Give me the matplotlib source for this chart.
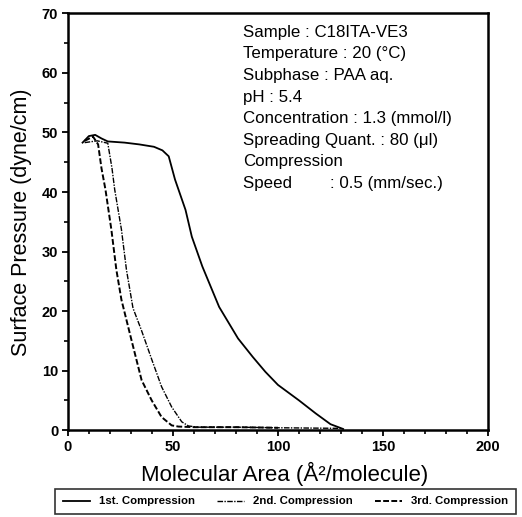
import matplotlib
matplotlib.use("Agg")
import matplotlib.pyplot as plt
from matplotlib.ticker import MultipleLocator

plt.rcParams['font.family'] = ['Liberation Sans', 'DejaVu Sans']

# 1st compression
x1 = [7, 10, 13, 16, 19, 27, 34, 41, 45, 48, 51, 56, 59, 64, 72, 81, 88, 94, 100, 110, 118, 125, 131]
y1 = [48.3, 49.4, 49.6, 49.0, 48.5, 48.3, 48.0, 47.6, 47.0, 46.0, 42.1, 37.0, 32.5, 27.5, 20.7, 15.4, 12.3, 9.8, 7.6, 5.0, 2.8, 1.0, 0.2]
# 2nd compression
x2 = [8, 14, 19, 21, 22.3, 25.5, 27.9, 31, 35, 40, 44.6, 49.4, 54.2, 57.4, 62, 80, 100, 130]
y2 = [48.3, 48.6, 48.2, 44.0, 40.4, 33.7, 26.9, 20.5, 16.8, 11.8, 7.3, 3.9, 1.4, 0.7, 0.5, 0.5, 0.4, 0.3]
# 3rd compression
x3 = [8, 12, 14.4, 16, 17.9, 20.7, 23.1, 25.5, 30.3, 35.1, 39.9, 44.6, 49.4, 52.6, 60, 80, 100]
y3 = [48.6, 49.3, 48.0, 44.0, 40.4, 33.7, 26.9, 21.9, 15.1, 8.4, 5.0, 2.2, 0.8, 0.6, 0.5, 0.5, 0.4]

labels = ['1st. Compression', '2nd. Compression', '3rd. Compression']
info_lines = ['Sample : C18ITA-VE3', 'Temperature : 20 (°C)', 'Subphase : PAA aq.', 'pH : 5.4',
              'Concentration : 1.3 (mmol/l)', 'Spreading Quant. : 80 (μl)', 'Compression',
              'Speed        : 0.5 (mm/sec.)']

fig = plt.figure(figsize=(5.22, 5.17), dpi=100)
ax = fig.add_axes([0.130, 0.168, 0.805, 0.806])

ax.plot(x1, y1, color='black', lw=1.3, linestyle='-', label=labels[0])
ax.plot(x2, y2, color='black', lw=1.0, linestyle=(0, (4, 1, 1, 1)), label=labels[1])
ax.plot(x3, y3, color='black', lw=1.4, linestyle=(0, (3, 1.2)), label=labels[2])

ax.set_xlim(0, 200)
ax.set_ylim(0, 70)
ax.xaxis.set_major_locator(MultipleLocator(50))
ax.xaxis.set_minor_locator(MultipleLocator(10))
ax.yaxis.set_major_locator(MultipleLocator(10))
ax.yaxis.set_minor_locator(MultipleLocator(5))
ax.tick_params(which='major', direction='out', length=4, width=1.3, labelsize=10.5, pad=3)
ax.tick_params(which='minor', direction='out', length=3, width=1.2)
for lab in ax.get_xticklabels() + ax.get_yticklabels():
    lab.set_fontweight('bold')
for s in ax.spines.values():
    s.set_linewidth(1.8)

ax.set_xlabel('Molecular Area (Å²/molecule)', fontsize=16, labelpad=5)
ax.xaxis.set_label_coords(0.515, -0.075)
ax.set_ylabel('Surface Pressure (dyne/cm)', fontsize=15.5, labelpad=7)

y0 = 0.944
for i, t in enumerate(info_lines):
    ax.text(0.417, y0 - i * 0.0518, t, transform=ax.transAxes, fontsize=12.2,
            va='baseline', ha='left')

leg = fig.legend(loc='center', bbox_to_anchor=(0.547, 0.030), ncol=3,
                 frameon=True, fancybox=False, edgecolor='black', handlelength=2.4,
                 columnspacing=1.9, handletextpad=0.8, borderpad=0.7,
                 prop={'weight': 'bold', 'size': 8.2})
leg.get_frame().set_linewidth(1.2)

fig.savefig('out.png', dpi=100)
